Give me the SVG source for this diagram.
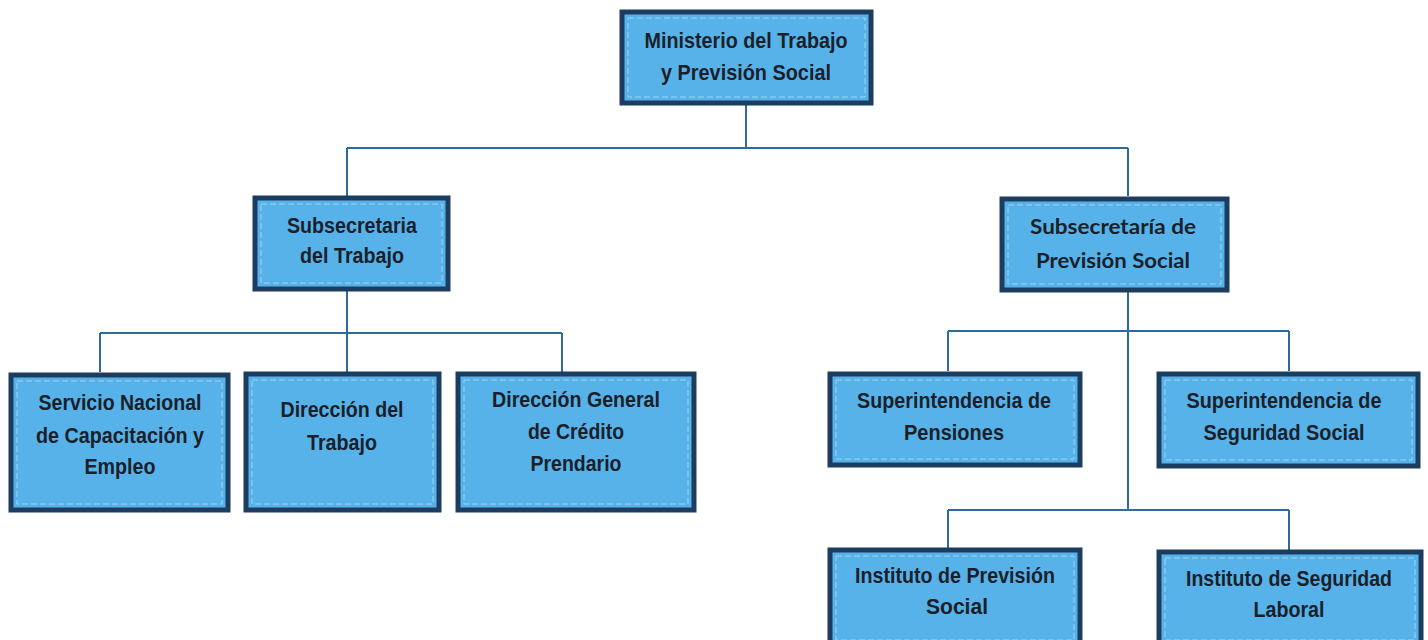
<svg xmlns="http://www.w3.org/2000/svg" width="1428" height="640" viewBox="0 0 1428 640">
<style>
.box{fill:#57b2e9;stroke:#1c3d60;stroke-width:5}
.inner{fill:none;stroke:#9fd4f2;stroke-width:1;stroke-dasharray:6 3}
.t{font-family:"Liberation Sans Narrow","Liberation Sans",Arial,sans-serif;font-weight:bold;font-size:22px;fill:#1a1f2a;text-anchor:middle}
.c{font-family:Lato,"Open Sans",sans-serif;font-weight:bold;font-size:21px;fill:#1a1f2a;text-anchor:middle}
.ln{fill:none;stroke:#2f6a9c;stroke-width:2}
</style>
<rect width="1428" height="640" fill="#ffffff"/>
<g id="connectors">
<path class="ln" d="M746 104V148M347 148H1128M347 148V196M1128 148V196"/>
<path class="ln" d="M347 290V333M100 333H562M100 333V372M347 333V372M562 333V372"/>
<path class="ln" d="M1128 292V510M948 331H1289M948 331V371M1289 331V371M948 510H1289M948 510V548M1289 510V550"/>
</g>
<g id="ministerio">
<rect class="box" x="622" y="12" width="249" height="91"/>
<rect class="inner" x="628" y="18" width="237" height="79"/>
<text class="t" x="746" y="48" textLength="203" lengthAdjust="spacingAndGlyphs">Ministerio del Trabajo</text>
<text class="t" x="746" y="80" textLength="170" lengthAdjust="spacingAndGlyphs">y Previsión Social</text>
</g>
<g id="subsec-trabajo">
<rect class="box" x="255" y="198" width="193" height="91"/>
<rect class="inner" x="261" y="204" width="181" height="79"/>
<text class="t" x="352" y="233" textLength="130" lengthAdjust="spacingAndGlyphs">Subsecretaria</text>
<text class="t" x="352" y="263" textLength="104" lengthAdjust="spacingAndGlyphs">del Trabajo</text>
</g>
<g id="subsec-prevision">
<rect class="box" x="1002" y="199" width="225" height="91"/>
<rect class="inner" x="1008" y="205" width="213" height="79"/>
<text class="c" x="1113" y="234" textLength="166" lengthAdjust="spacingAndGlyphs">Subsecretaría de</text>
<text class="c" x="1113" y="268" textLength="154" lengthAdjust="spacingAndGlyphs">Previsión Social</text>
</g>
<g id="sence">
<rect class="box" x="11" y="375" width="217" height="135"/>
<rect class="inner" x="17" y="381" width="205" height="123"/>
<text class="t" x="120" y="410" textLength="163" lengthAdjust="spacingAndGlyphs">Servicio Nacional</text>
<text class="t" x="120" y="443" textLength="168" lengthAdjust="spacingAndGlyphs">de Capacitación y</text>
<text class="t" x="120" y="474" textLength="71" lengthAdjust="spacingAndGlyphs">Empleo</text>
</g>
<g id="direccion-trabajo">
<rect class="box" x="246" y="374" width="193" height="136"/>
<rect class="inner" x="252" y="380" width="181" height="124"/>
<text class="t" x="342" y="417" textLength="123" lengthAdjust="spacingAndGlyphs">Dirección del</text>
<text class="t" x="342" y="450" textLength="70" lengthAdjust="spacingAndGlyphs">Trabajo</text>
</g>
<g id="direccion-credito">
<rect class="box" x="458" y="374" width="236" height="136"/>
<rect class="inner" x="464" y="380" width="224" height="124"/>
<text class="t" x="576" y="407" textLength="168" lengthAdjust="spacingAndGlyphs">Dirección General</text>
<text class="t" x="576" y="439" textLength="96" lengthAdjust="spacingAndGlyphs">de Crédito</text>
<text class="t" x="576" y="471" textLength="91" lengthAdjust="spacingAndGlyphs">Prendario</text>
</g>
<g id="sup-pensiones">
<rect class="box" x="830" y="374" width="250" height="91"/>
<rect class="inner" x="836" y="380" width="238" height="79"/>
<text class="t" x="954" y="408" textLength="194" lengthAdjust="spacingAndGlyphs">Superintendencia de</text>
<text class="t" x="954" y="440" textLength="100" lengthAdjust="spacingAndGlyphs">Pensiones</text>
</g>
<g id="sup-seguridad">
<rect class="box" x="1159" y="374" width="259" height="92"/>
<rect class="inner" x="1165" y="380" width="247" height="80"/>
<text class="t" x="1284" y="408" textLength="195" lengthAdjust="spacingAndGlyphs">Superintendencia de</text>
<text class="t" x="1284" y="440" textLength="161" lengthAdjust="spacingAndGlyphs">Seguridad Social</text>
</g>
<g id="ips">
<rect class="box" x="830" y="550" width="250" height="96"/>
<rect class="inner" x="836" y="556" width="238" height="84"/>
<text class="t" x="955" y="583" textLength="200" lengthAdjust="spacingAndGlyphs">Instituto de Previsión</text>
<text class="t" x="957" y="614" textLength="62" lengthAdjust="spacingAndGlyphs">Social</text>
</g>
<g id="isl">
<rect class="box" x="1159" y="552" width="262" height="94"/>
<rect class="inner" x="1165" y="558" width="250" height="82"/>
<text class="t" x="1289" y="586" textLength="206" lengthAdjust="spacingAndGlyphs">Instituto de Seguridad</text>
<text class="t" x="1289" y="617" textLength="71" lengthAdjust="spacingAndGlyphs">Laboral</text>
</g>
</svg>
